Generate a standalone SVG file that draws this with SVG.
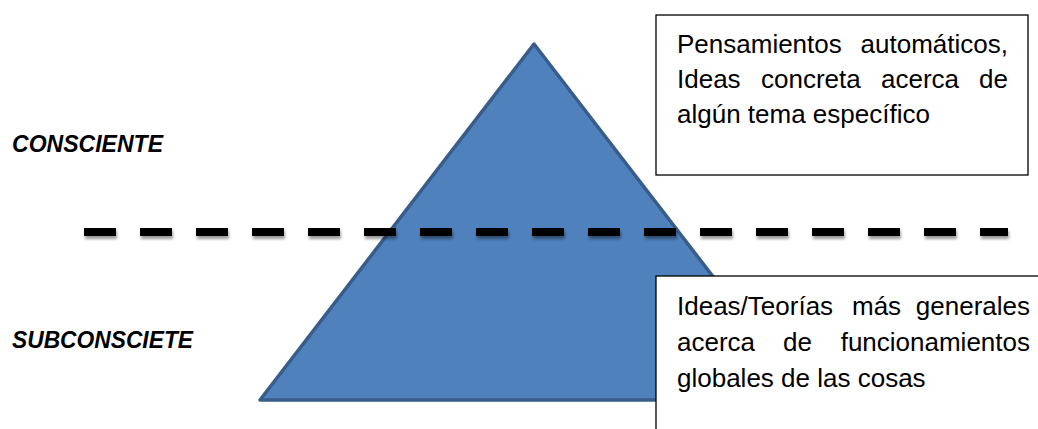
<svg xmlns="http://www.w3.org/2000/svg" width="1038" height="429" viewBox="0 0 1038 429">
  <style>
    .body { font-family: "Liberation Sans", Arial, sans-serif; font-size: 26px; fill: #000; }
    .label { font-family: "Liberation Sans", Arial, sans-serif; font-size: 24px; font-weight: bold; font-style: italic; fill: #000; }
    .box { fill: #fff; stroke: #000; stroke-width: 1.3; }
    .pyramid { fill: #4f81bd; stroke: #385d8a; stroke-width: 3.5; stroke-linejoin: round; }
    .divider { stroke: #000; stroke-width: 8; stroke-dasharray: 32 24; fill: none; }
  </style>
  <defs>
    <filter id="dashShadow" filterUnits="userSpaceOnUse" x="0" y="200" width="1038" height="70">
      <feDropShadow dx="1" dy="3" stdDeviation="1.6" flood-color="#000" flood-opacity="0.4"/>
    </filter>
  </defs>
  <rect width="1038" height="429" fill="#fff"/>

  <!-- pyramid -->
  <g id="pyramid">
    <polygon class="pyramid" points="534,44 808,400 260,400"/>
  </g>

  <!-- side labels -->
  <g id="label-consciente">
    <text class="label" x="12" y="152" textLength="151" lengthAdjust="spacingAndGlyphs">CONSCIENTE</text>
  </g>
  <g id="label-subconsciete">
    <text class="label" x="12" y="348" textLength="181" lengthAdjust="spacingAndGlyphs">SUBCONSCIETE</text>
  </g>

  <!-- upper note -->
  <g id="note-automaticos">
    <rect class="box" x="656" y="15" width="372" height="160"/>
    <text class="body" y="53">
      <tspan x="677">Pensamientos</tspan>
      <tspan x="1008" text-anchor="end">automáticos,</tspan>
    </text>
    <text class="body" y="88">
      <tspan x="677">Ideas</tspan>
      <tspan x="761">concreta</tspan>
      <tspan x="881">acerca</tspan>
      <tspan x="1008" text-anchor="end">de</tspan>
    </text>
    <text class="body" x="677" y="123">algún tema específico</text>
  </g>

  <!-- conscious / subconscious divider -->
  <g id="connectors">
    <path class="divider" d="M84,232 H1008" filter="url(#dashShadow)"/>
  </g>

  <!-- lower note -->
  <g id="note-teorias">
    <rect class="box" x="656" y="276" width="400" height="170"/>
    <text class="body" y="315">
      <tspan x="677">Ideas/Teorías</tspan>
      <tspan x="852">más</tspan>
      <tspan x="1030" text-anchor="end">generales</tspan>
    </text>
    <text class="body" y="351">
      <tspan x="677">acerca</tspan>
      <tspan x="783">de</tspan>
      <tspan x="1030" text-anchor="end">funcionamientos</tspan>
    </text>
    <text class="body" x="677" y="387">globales de las cosas</text>
  </g>
</svg>
